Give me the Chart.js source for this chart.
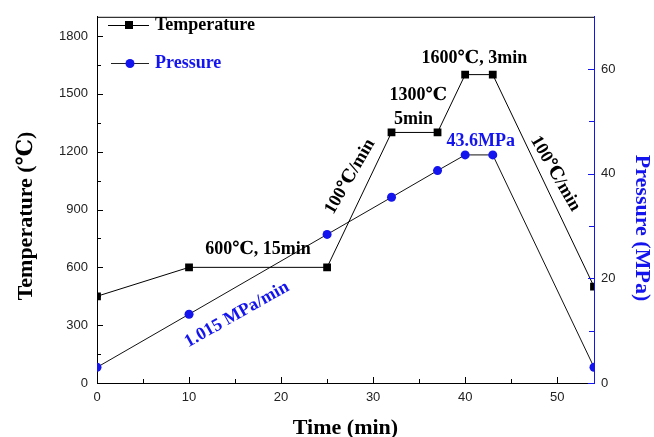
<!DOCTYPE html>
<html>
<head>
<meta charset="utf-8">
<script src="https://cdn.jsdelivr.net/npm/chart.js@4.4.1/dist/chart.umd.min.js"></script>
<style>
html,body{margin:0;padding:0;background:#ffffff;}
#wrap{width:654px;height:437px;}
</style>
</head>
<body>
<div id="wrap"><canvas id="c" width="654" height="437"></canvas></div>
<script>
// ---- data ----
const times = [0, 10, 25, 32, 37, 40, 43, 54];
const temperature = [450, 600, 600, 1300, 1300, 1600, 1600, 500];
const pressure = [3.0, 13.15, 28.4, 35.5, 40.6, 43.6, 43.6, 3.0];
const timeTicks = [0, 10, 20, 30, 40, 50];
const tempTicks = [0, 300, 600, 900, 1200, 1500, 1800];
const pressureTicks = [0, 20, 40, 60];
const seriesNames = ['Temperature', 'Pressure'];
const xTitle = 'Time (min)';
const yTitle = 'Temperature (℃)';
const y1Title = 'Pressure (MPa)';
const noteTexts = ['600℃, 15min', '1.015 MPa/min', '100℃/min', '1300℃', '5min', '1600℃, 3min', '43.6MPa', '100℃/min'];

// ---- styling ----
const BLACK = '#000000';
const BLUE = '#1414ee';
const SERIF = '"Liberation Serif", "Times New Roman", "DejaVu Serif", serif';
const SANS = '"Liberation Sans", Arial, sans-serif';

// annotation placement (data coordinates on time / temperature scales)
const notePlace = [
  {t: 17.5, v: 695, angle: 0, color: BLACK},
  {t: 15.2, v: 355, angle: -29.5, color: BLUE},
  {t: 27.5, v: 1071, angle: -60, color: BLACK},
  {t: 34.9, v: 1493, angle: 0, color: BLACK},
  {t: 34.4, v: 1370, angle: 0, color: BLACK},
  {t: 41.0, v: 1684, angle: 0, color: BLACK},
  {t: 41.7, v: 1256, angle: 0, color: BLUE},
  {t: 49.8, v: 1086, angle: 60, color: BLACK}
];

const decor = {
  id: 'decor',
  afterDraw(chart) {
    const ctx = chart.ctx;
    const a = chart.chartArea;
    const xs = chart.scales.x, ys = chart.scales.y, y1s = chart.scales.y1;
    ctx.save();
    // top frame line
    ctx.strokeStyle = BLACK; ctx.lineWidth = 1;
    ctx.beginPath(); ctx.moveTo(a.left, a.top + 0.5); ctx.lineTo(a.right, a.top + 0.5); ctx.stroke();
    // inward tick marks
    ctx.beginPath();
    for (let t = 0; t <= 50; t += 5) {
      const px = Math.round(xs.getPixelForValue(t)) + 0.5;
      const len = (t % 10 === 0) ? 6 : 4;
      ctx.moveTo(px, a.bottom); ctx.lineTo(px, a.bottom - len);
    }
    for (let v = 0; v <= 1800; v += 150) {
      const py = Math.round(ys.getPixelForValue(v)) + 0.5;
      const len = (v % 300 === 0) ? 6 : 4;
      ctx.moveTo(a.left, py); ctx.lineTo(a.left + len, py);
    }
    ctx.stroke();
    ctx.strokeStyle = BLUE;
    ctx.beginPath();
    for (let v = 0; v <= 60; v += 10) {
      const py = Math.round(y1s.getPixelForValue(v)) + 0.5;
      const len = (v % 20 === 0) ? 6 : 5;
      ctx.moveTo(a.right, py); ctx.lineTo(a.right - len, py);
    }
    ctx.stroke();

    // axis titles
    ctx.font = 'bold 22px ' + SERIF;
    ctx.textAlign = 'center'; ctx.textBaseline = 'middle';
    ctx.fillStyle = BLACK;
    ctx.fillText(xTitle, (a.left + a.right) / 2, 428);
    ctx.save(); ctx.translate(26, 216); ctx.rotate(-Math.PI / 2); ctx.fillText(yTitle, 0, 0); ctx.restore();
    ctx.fillStyle = BLUE;
    ctx.save(); ctx.translate(642, 228); ctx.rotate(Math.PI / 2); ctx.fillText(y1Title, 0, 0); ctx.restore();

    // legend
    ctx.lineWidth = 1;
    ctx.strokeStyle = BLACK;
    ctx.beginPath(); ctx.moveTo(108, 25.5); ctx.lineTo(149, 25.5); ctx.stroke();
    ctx.fillStyle = BLACK; ctx.fillRect(125, 21, 8, 8);
    ctx.strokeStyle = '#222';
    ctx.beginPath(); ctx.moveTo(111, 63.5); ctx.lineTo(149, 63.5); ctx.stroke();
    ctx.fillStyle = BLUE; ctx.beginPath(); ctx.arc(130, 63.5, 4.5, 0, Math.PI * 2); ctx.fill();
    ctx.font = 'bold 18px ' + SERIF;
    ctx.textAlign = 'left';
    ctx.fillStyle = BLACK; ctx.fillText(seriesNames[0], 155, 25);
    ctx.fillStyle = BLUE; ctx.fillText(seriesNames[1], 155, 63);

    // annotations
    ctx.textAlign = 'center';
    noteTexts.forEach((txt, i) => {
      const p = notePlace[i];
      const px = xs.getPixelForValue(p.t), py = ys.getPixelForValue(p.v);
      ctx.save();
      ctx.translate(px, py);
      ctx.rotate(p.angle * Math.PI / 180);
      ctx.fillStyle = p.color;
      ctx.fillText(txt, 0, 0);
      ctx.restore();
    });
    ctx.restore();
  }
};

const tickFont = {family: SANS, size: 13};
const plainLabel = v => String(v);

new Chart(document.getElementById('c'), {
  type: 'line',
  data: {
    datasets: [
      {
        label: seriesNames[0],
        data: times.map((t, i) => ({x: t, y: temperature[i]})),
        yAxisID: 'y',
        borderColor: BLACK, borderWidth: 1, tension: 0,
        pointStyle: 'rect', pointRadius: 5.5,
        pointBackgroundColor: BLACK, pointBorderColor: BLACK, pointBorderWidth: 0
      },
      {
        label: seriesNames[1],
        data: times.map((t, i) => ({x: t, y: pressure[i]})),
        yAxisID: 'y1',
        borderColor: '#111', borderWidth: 1, tension: 0,
        pointStyle: 'circle', pointRadius: 4.5,
        pointBackgroundColor: BLUE, pointBorderColor: BLUE, pointBorderWidth: 0
      }
    ]
  },
  options: {
    responsive: false,
    animation: false,
    devicePixelRatio: 1,
    layout: {padding: {top: 14, left: 0, right: 0, bottom: 0}},
    plugins: {legend: {display: false}, tooltip: {enabled: false}},
    scales: {
      x: {
        type: 'linear', position: 'bottom', min: 0, max: 54,
        afterBuildTicks: s => { s.ticks = timeTicks.map(v => ({value: v})); },
        afterFit: s => { s.height = 54; },
        grid: {display: false, drawTicks: false},
        border: {display: true, color: BLACK, width: 1},
        ticks: {padding: 7, color: '#222', font: tickFont, maxRotation: 0, autoSkip: false, callback: plainLabel}
      },
      y: {
        type: 'linear', position: 'left', min: 0, max: 1900,
        afterBuildTicks: s => { s.ticks = tempTicks.map(v => ({value: v})); },
        afterFit: s => { s.width = 97; },
        grid: {display: false, drawTicks: false},
        border: {display: true, color: BLACK, width: 1},
        ticks: {padding: 9, color: '#222', font: tickFont, autoSkip: false, callback: plainLabel}
      },
      y1: {
        type: 'linear', position: 'right', min: 0, max: 70,
        afterBuildTicks: s => { s.ticks = pressureTicks.map(v => ({value: v})); },
        afterFit: s => { s.width = 60; },
        grid: {display: false, drawTicks: false},
        border: {display: true, color: BLUE, width: 1},
        ticks: {padding: 7, color: '#222', font: tickFont, autoSkip: false, callback: plainLabel}
      }
    }
  },
  plugins: [decor]
});
</script>
</body>
</html>
